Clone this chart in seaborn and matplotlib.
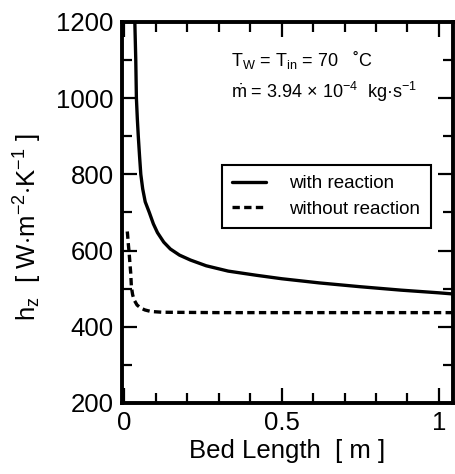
import matplotlib
matplotlib.use("Agg")
import matplotlib.pyplot as plt
import seaborn as sns
import pandas as pd
from matplotlib.ticker import MultipleLocator

# data
x_with = [0.031, 0.033, 0.036, 0.038, 0.041, 0.044, 0.048, 0.052, 0.058, 0.066, 0.079,
          0.092, 0.105, 0.125, 0.146, 0.175, 0.210, 0.260, 0.330, 0.420, 0.500, 0.620,
          0.750, 0.880, 1.000, 1.045]
y_with = [1350, 1200, 1100, 1000, 945, 900, 848, 800, 762, 728, 700,
          670, 647, 622, 604, 588, 575, 560, 546, 535, 526, 515,
          505, 496, 489, 486]
x_without = [0.009, 0.010, 0.012, 0.015, 0.018, 0.020, 0.022, 0.026, 0.031, 0.040,
             0.052, 0.065, 0.084, 0.120, 0.300, 0.600, 1.045]
y_without = [650, 641, 620, 593, 560, 540, 505, 484, 470, 457,
             449, 444, 440, 438, 437, 437, 437]
series_names = ["with reaction", "without reaction"]
x_ticks = [0, 0.5, 1]
x_tick_labels = ["0", "0.5", "1"]
y_ticks = [200, 400, 600, 800, 1000, 1200]

df = pd.concat([
    pd.DataFrame({"x": x_with, "y": y_with, "s": series_names[0]}),
    pd.DataFrame({"x": x_without, "y": y_without, "s": series_names[1]}),
])

sns.set_theme(style="ticks")
plt.rcParams["font.family"] = ["Liberation Sans", "DejaVu Sans"]
plt.rcParams["mathtext.fontset"] = "custom"
plt.rcParams["mathtext.rm"] = "Liberation Sans"
plt.rcParams["mathtext.it"] = "Liberation Sans:italic"
plt.rcParams["mathtext.bf"] = "Liberation Sans:bold"
plt.rcParams["text.color"] = "black"
plt.rcParams["axes.labelcolor"] = "black"
plt.rcParams["xtick.color"] = "black"
plt.rcParams["ytick.color"] = "black"

fig = plt.figure(figsize=(4.55, 4.74), dpi=100)
ax = fig.add_axes([0.268, 0.150, 0.7276, 0.8036])

sns.lineplot(data=df, x="x", y="y", hue="s", style="s",
             palette=["black", "black"],
             dashes={series_names[0]: "", series_names[1]: (2.2, 1.3)},
             linewidth=2.4, ax=ax, sort=False, estimator=None)

ax.set_xlim(-0.008, 1.045)
ax.set_ylim(200, 1200)
ax.set_xticks(x_ticks)
ax.set_xticklabels(x_tick_labels)
ax.set_yticks(y_ticks)
ax.xaxis.set_minor_locator(MultipleLocator(0.1))
ax.yaxis.set_minor_locator(MultipleLocator(100))

for sp in ax.spines.values():
    sp.set_linewidth(2.8)
    sp.set_color("black")

ax.tick_params(which="both", direction="in", top=True, right=True,
               color="black", width=1.6, labelcolor="black")
ax.tick_params(which="major", length=11, labelsize=18.5, pad=6)
ax.tick_params(which="minor", length=7)

ax.set_xlabel("Bed Length  [ m ]", fontsize=18.5, labelpad=3)
ax.set_ylabel(r"h$_\mathregular{z}$  [ W$\cdot$m$^\mathregular{-2}$$\cdot$K$^\mathregular{-1}$ ]",
              fontsize=18.5)
ax.yaxis.set_label_coords(-0.235, 0.46)

ax.text(0.33, 0.90, r"T$_\mathregular{W}$ = T$_\mathregular{in}$ = 70   ˚C",
        transform=ax.transAxes, fontsize=13, va="center", ha="left")
ax.text(0.33, 0.816, r"$\dot{\mathregular{m}}$ = 3.94 × 10$^\mathregular{-4}$  kg·s$^\mathregular{-1}$",
        transform=ax.transAxes, fontsize=13, va="center", ha="left")

leg = ax.legend(loc="upper left", bbox_to_anchor=(0.302, 0.625), fontsize=13.5,
                frameon=True, fancybox=False, framealpha=1, edgecolor="black",
                handlelength=1.8, handletextpad=1.25, borderpad=0.55,
                labelspacing=0.45, borderaxespad=0, title=None)
leg.get_frame().set_linewidth(1.5)

fig.savefig("out.png", dpi=100)
